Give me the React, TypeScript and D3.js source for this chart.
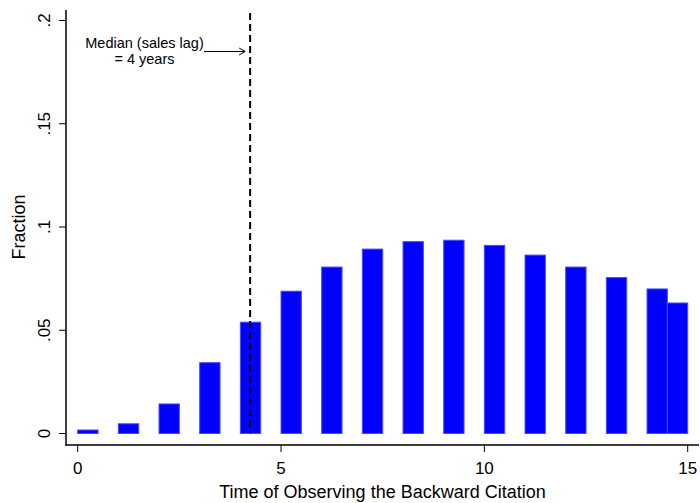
import React, { useEffect, useRef } from "react";
import * as d3 from "d3";

// bar left edges (years) and heights (fraction)
const binStarts = [0, 1, 2, 3, 4, 5, 6, 7, 8, 9, 10, 11, 12, 13, 14, 14.5];
const fractions = [
  0.0017, 0.0047, 0.0143, 0.0343, 0.0539, 0.0689, 0.0806, 0.0893, 0.0929,
  0.0936, 0.0911, 0.0864, 0.0806, 0.0755, 0.07, 0.0632,
];
const xTicks = [0, 5, 10, 15];
const yTicks = [0, 0.05, 0.1, 0.15, 0.2];
const yTickLabels = ["0", ".05", ".1", ".15", ".2"];
const medianLag = 4.24;
const annotation = ["Median (sales lag)", "= 4 years"];

const App = () => {
  const ref = useRef<SVGSVGElement>(null);

  useEffect(() => {
    const svg = d3.select(ref.current);
    svg.selectAll("*").remove();

    const font = "Liberation Sans, Arial, sans-serif";

    const x = d3.scaleLinear().domain([0, 15]).range([77.7, 687.7]);
    const y = d3.scaleLinear().domain([0, 0.2]).range([433.5, 20.5]);

    // bars
    svg
      .append("g")
      .selectAll("rect")
      .data(fractions)
      .join("rect")
      .attr("x", (d, i) => x(binStarts[i]))
      .attr("width", x(0.5) - x(0))
      .attr("y", (d) => y(d))
      .attr("height", (d) => y(0) - y(d))
      .attr("fill", "#0000ff")
      .attr("stroke", "#4a4aff")
      .attr("stroke-width", 1);

    // axes lines (Stata style, no box)
    svg
      .append("line")
      .attr("x1", 66)
      .attr("x2", 66)
      .attr("y1", 10)
      .attr("y2", 445.5)
      .attr("stroke", "#000")
      .attr("stroke-width", 1.5);
    svg
      .append("line")
      .attr("x1", 65.25)
      .attr("x2", 699)
      .attr("y1", 445)
      .attr("y2", 445)
      .attr("stroke", "#000")
      .attr("stroke-width", 1.5);

    // x ticks
    const gx = svg.append("g");
    gx.selectAll("line")
      .data(xTicks)
      .join("line")
      .attr("x1", (d) => x(d))
      .attr("x2", (d) => x(d))
      .attr("y1", 445)
      .attr("y2", 452)
      .attr("stroke", "#000");
    gx.selectAll("text")
      .data(xTicks)
      .join("text")
      .attr("x", (d) => x(d))
      .attr("y", 474)
      .attr("text-anchor", "middle")
      .attr("font-family", font)
      .attr("font-size", 17)
      .text((d) => d);

    // y ticks
    const gy = svg.append("g");
    gy.selectAll("line")
      .data(yTicks)
      .join("line")
      .attr("x1", 59)
      .attr("x2", 66)
      .attr("y1", (d) => y(d))
      .attr("y2", (d) => y(d))
      .attr("stroke", "#000");
    gy.selectAll("text")
      .data(yTicks)
      .join("text")
      .attr("transform", (d) => `translate(50,${y(d)}) rotate(-90)`)
      .attr("text-anchor", "middle")
      .attr("font-family", font)
      .attr("font-size", 17)
      .text((d, i) => yTickLabels[i]);

    // axis titles
    svg
      .append("text")
      .attr("x", 382.5)
      .attr("y", 498)
      .attr("text-anchor", "middle")
      .attr("font-family", font)
      .attr("font-size", 18)
      .text("Time of Observing the Backward Citation");
    svg
      .append("text")
      .attr("transform", `translate(25,${y(0.1)}) rotate(-90)`)
      .attr("text-anchor", "middle")
      .attr("font-family", font)
      .attr("font-size", 18)
      .text("Fraction");

    // median dashed line
    svg
      .append("line")
      .attr("x1", x(medianLag))
      .attr("x2", x(medianLag))
      .attr("y1", 13)
      .attr("y2", y(0))
      .attr("stroke", "#000")
      .attr("stroke-width", 2)
      .attr("stroke-dasharray", "7,4");

    // annotation text and arrow
    svg
      .append("g")
      .selectAll("text")
      .data(annotation)
      .join("text")
      .attr("x", 144.5)
      .attr("y", (d, i) => 48 + i * 16)
      .attr("text-anchor", "middle")
      .attr("font-family", font)
      .attr("font-size", 14.5)
      .text((d) => d);

    const ax0 = 204;
    const ax1 = x(medianLag) - 5;
    const ay = 51.5;
    svg
      .append("path")
      .attr(
        "d",
        `M${ax0},${ay}L${ax1},${ay}M${ax1 - 6},${ay - 3.5}L${ax1},${ay}L${ax1 - 6},${ay + 3.5}`
      )
      .attr("fill", "none")
      .attr("stroke", "#000")
      .attr("stroke-width", 1);
  }, []);

  return (
    <svg
      ref={ref}
      width={700}
      height={503}
      style={{ position: "absolute", left: 0, top: 0, background: "#fff" }}
    />
  );
};

export default App;
